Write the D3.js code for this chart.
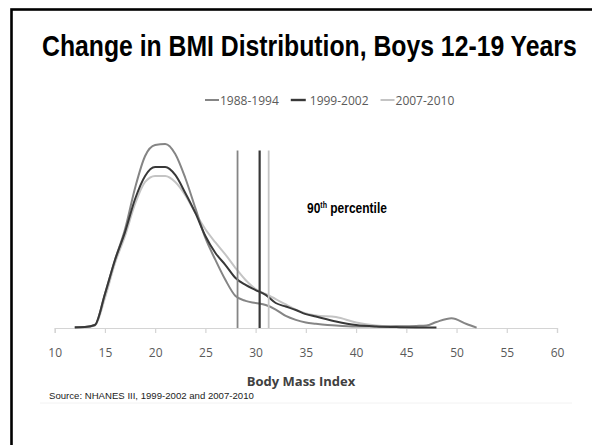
<!DOCTYPE html>
<html>
<head>
<meta charset="utf-8">
<script src="https://cdn.jsdelivr.net/npm/d3@7"></script>
<style>
  html, body { margin: 0; padding: 0; background: #fff; }
  svg { display: block; }
</style>
</head>
<body>
<svg id="chart" width="592" height="445"></svg>
<script>
// ---------- data ----------
const seriesNames = ["1988-1994", "1999-2002", "2007-2010"];
const seriesColors = ["#858585", "#383838", "#c4c4c4"];

// BMI (x) and density in % per BMI unit (y)
const bmi1988 = [12, 13, 14, 15, 16, 17, 18, 19, 20, 21, 22, 23, 24, 25, 26, 27, 28, 29, 30, 31, 32, 33, 34, 35, 36, 38, 40, 42, 44, 46, 47, 48, 49.5, 51, 52];
const dens1988 = [0.05, 0.05, 0.16, 1.81, 3.62, 5.25, 7.45, 9.15, 9.73, 9.79, 9.26, 7.98, 6.38, 4.79, 3.62, 2.55, 1.70, 1.44, 1.33, 1.22, 0.98, 0.64, 0.43, 0.29, 0.23, 0.13, 0.08, 0.08, 0.09, 0.11, 0.13, 0.32, 0.52, 0.21, 0.02];

const bmi1999 = [12, 13, 14, 15, 16, 17, 18, 19, 20, 21, 22, 23, 24, 25, 26, 27, 28, 29, 30, 31, 32, 33, 34, 35, 36, 38, 40, 42, 44, 46, 48];
const dens1999 = [0.03, 0.05, 0.16, 1.81, 3.62, 5.10, 6.86, 8.09, 8.56, 8.56, 8.14, 7.18, 6.12, 4.89, 3.99, 3.35, 2.66, 2.29, 2.02, 1.76, 1.33, 1.14, 0.96, 0.74, 0.61, 0.35, 0.16, 0.08, 0.05, 0.03, 0.02];

const bmi2007 = [12, 13, 14, 15, 16, 17, 18, 19, 20, 21, 22, 23, 24, 25, 26, 27, 28, 29, 30, 31, 32, 33, 34, 35, 36, 38, 40, 42, 44, 46];
const dens2007 = [0.03, 0.04, 0.13, 1.60, 3.45, 4.90, 6.60, 7.77, 8.09, 8.09, 7.77, 7.07, 6.12, 5.25, 4.55, 3.90, 3.19, 2.55, 2.07, 1.81, 1.54, 1.25, 0.98, 0.77, 0.66, 0.58, 0.29, 0.13, 0.08, 0.05];

// 90th percentile BMI for each survey period
const p90 = [28.2, 30.4, 31.3];

const xTicks = [10, 15, 20, 25, 30, 35, 40, 45, 50, 55, 60];

const titleText = "Change in BMI Distribution, Boys 12-19 Years";
const xAxisTitle = "Body Mass Index";
const sourceText = "Source: NHANES III, 1999-2002  and 2007-2010";

// ---------- drawing ----------
const svg = d3.select("#chart");

// slide frame
svg.append("rect")
  .attr("x", 11.5).attr("y", 9.5)
  .attr("width", 700).attr("height", 600)
  .attr("fill", "none").attr("stroke", "#000").attr("stroke-width", 2.6);

// helper: condensed (narrow) bold text via horizontal scaling
function narrowText(parent, px, py, width, size) {
  const g = parent.append("g");
  const t = g.append("text")
    .attr("x", 0).attr("y", 0)
    .attr("font-family", "'Liberation Sans', Arial, sans-serif")
    .attr("font-weight", "bold")
    .attr("font-size", size)
    .attr("fill", "#000");
  return { g, t, place: () => {
    const w = t.node().getComputedTextLength();
    g.attr("transform", `translate(${px},${py}) scale(${width / w},1)`);
  }};
}

// title (condensed to span about x 42..577, like Arial Narrow Bold)
const tt = narrowText(svg, 42, 55.5, 535, 29);
tt.t.text(titleText);
tt.place();

const x = d3.scaleLinear().domain([10, 60]).range([54.7, 557]);
const y = d3.scaleLinear().domain([0, 10]).range([328, 140]);

// axis
const axis = d3.axisBottom(x).tickValues(xTicks).tickSize(5).tickPadding(15).tickFormat(d3.format("d"));
const gAxis = svg.append("g").attr("transform", `translate(0,${y(0)})`).call(axis);
gAxis.select(".domain").attr("stroke", "#d4d4d4").attr("stroke-width", 1.2);
gAxis.selectAll(".tick line").attr("stroke", "#d4d4d4").attr("stroke-width", 1.2);
gAxis.selectAll(".tick text")
  .attr("font-family", "'Open Sans', sans-serif")
  .attr("font-size", 12)
  .attr("fill", "#5a5a5a");

// curves
const series = [
  { name: seriesNames[0], xs: bmi1988, ys: dens1988, color: seriesColors[0], w: 2 },
  { name: seriesNames[1], xs: bmi1999, ys: dens1999, color: seriesColors[1], w: 2 },
  { name: seriesNames[2], xs: bmi2007, ys: dens2007, color: seriesColors[2], w: 2 }
];
const line = d3.line().x(d => x(d[0])).y(d => y(d[1])).curve(d3.curveMonotoneX);

// draw light first, then mid, then dark
[2, 0, 1].forEach(i => {
  const s = series[i];
  svg.append("path")
    .datum(d3.zip(s.xs, s.ys))
    .attr("d", line)
    .attr("fill", "none")
    .attr("stroke", s.color)
    .attr("stroke-width", s.w)
    .attr("stroke-linejoin", "round");
});

// 90th percentile vertical lines
p90.forEach((v, i) => {
  svg.append("line")
    .attr("x1", x(v)).attr("x2", x(v))
    .attr("y1", 150.5).attr("y2", y(0))
    .attr("stroke", seriesColors[i])
    .attr("stroke-width", i === 1 ? 2.2 : 1.8);
});

// 90th percentile label
const pt = narrowText(svg, 307, 213, 80, 14.5);
pt.t.append("tspan").text("90");
pt.t.append("tspan").attr("font-size", 8.5).attr("dy", -5.5).text("th");
pt.t.append("tspan").attr("dy", 5.5).text(" percentile");
pt.place();

// legend
const legend = svg.append("g").attr("font-family", "'Open Sans', sans-serif").attr("font-size", 12).attr("fill", "#5a5a5a");
let lx = 205;
const ly = 100;
series.forEach((s, i) => {
  const len = i === 1 ? 15 : 14;
  legend.append("line")
    .attr("x1", lx).attr("x2", lx + len)
    .attr("y1", ly).attr("y2", ly)
    .attr("stroke", s.color).attr("stroke-width", i === 1 ? 2.4 : 2);
  lx += len + (i === 1 ? 4 : 1);
  const t = legend.append("text").attr("x", lx).attr("y", ly + 4.5).text(s.name);
  lx += t.node().getComputedTextLength() + 12;
});

// x-axis title
svg.append("text")
  .attr("x", 301).attr("y", 386)
  .attr("text-anchor", "middle")
  .attr("font-family", "'Open Sans', sans-serif")
  .attr("font-weight", "bold")
  .attr("font-size", 13)
  .attr("fill", "#404040")
  .text(xAxisTitle);

// source
svg.append("text")
  .attr("x", 49).attr("y", 398.5)
  .attr("font-family", "'Liberation Sans', Arial, sans-serif")
  .attr("font-size", 9.6)
  .attr("fill", "#222")
  .text(sourceText);

// faint picture edge under source
svg.append("line")
  .attr("x1", 40).attr("x2", 572).attr("y1", 403).attr("y2", 403)
  .attr("stroke", "#f2f2f2").attr("stroke-width", 1);
</script>
</body>
</html>
